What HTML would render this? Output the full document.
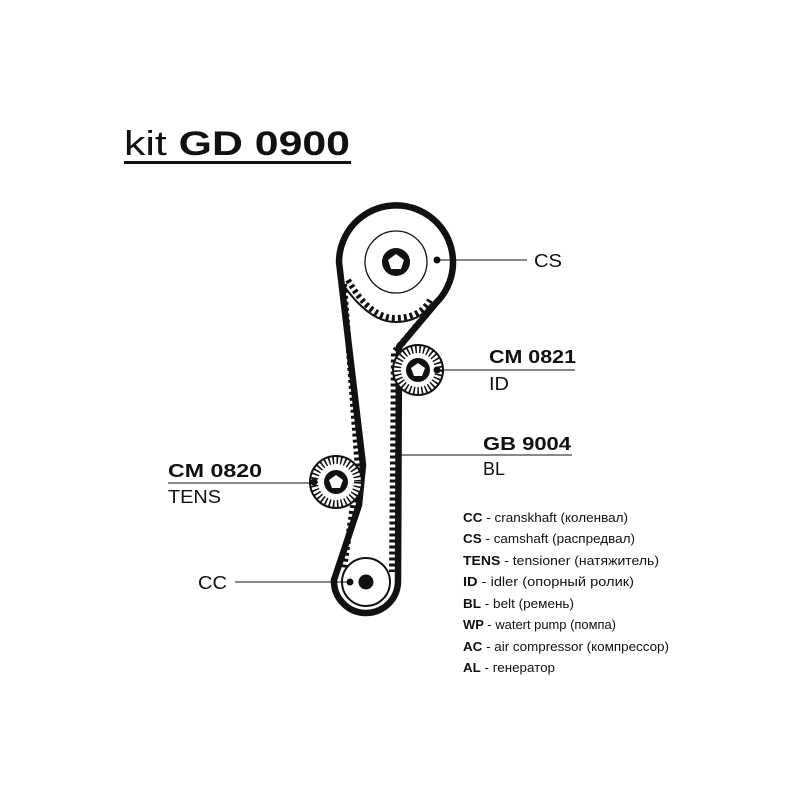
<!DOCTYPE html>
<html><head><meta charset="utf-8"><style>
body{margin:0;background:#fff;}
svg text{font-family:"Liberation Sans","DejaVu Sans",sans-serif;fill:#111;}
</style></head><body>
<svg width="800" height="800" viewBox="0 0 800 800" xmlns="http://www.w3.org/2000/svg">
<rect width="800" height="800" fill="#fff"/>
<text x="124" y="155" font-size="34" textLength="226" lengthAdjust="spacingAndGlyphs">kit <tspan font-weight="bold">GD 0900</tspan></text>
<rect x="124" y="161" width="227" height="3" fill="#111"/>

<path d="M339,262 A57,57 0 1 1 436,303 L399,347 L398,582 A31,31 0 0 1 334,580 L359,505 L363,465 L339,262 Z" fill="none" stroke="#111" stroke-width="6.5" stroke-linejoin="round"/>
<path d="M348,280 Q370,318 395,318 Q420,318 430,300 M428,312 L394,352 L392,572 M344,284 L358,470 L344,568" fill="none" stroke="#111" stroke-width="6" stroke-dasharray="3,3"/>
<path d="M344,286 Q370,322 395,322 Q420,322 431,304" fill="none" stroke="#111" stroke-width="2"/>

<circle cx="396" cy="262" r="31" fill="#fff" stroke="#111" stroke-width="1.3"/>
<circle cx="396" cy="262" r="14" fill="#111"/>
<polygon points="396,254 404,260 401,269 391,269 388,260" fill="#fff"/>
<circle cx="437" cy="260" r="3.5" fill="#111"/>

<circle cx="418" cy="370" r="25" fill="#fff" stroke="#111" stroke-width="2"/>
<circle cx="418" cy="370" r="21" fill="none" stroke="#111" stroke-width="8" stroke-dasharray="1.6,2.4"/>
<circle cx="418" cy="370" r="12" fill="#111"/>
<polygon points="418,363 425,368 422,376 414,376 411,368" fill="#fff"/>
<circle cx="437" cy="370" r="3.5" fill="#111"/>

<circle cx="336" cy="482" r="26" fill="#fff" stroke="#111" stroke-width="2"/>
<circle cx="336" cy="482" r="22" fill="none" stroke="#111" stroke-width="8" stroke-dasharray="1.6,2.4"/>
<circle cx="336" cy="482" r="12" fill="#111"/>
<polygon points="336,475 343,480 340,488 332,488 329,480" fill="#fff"/>
<circle cx="314" cy="482" r="3.5" fill="#111"/>

<circle cx="366" cy="582" r="24" fill="#fff" stroke="#111" stroke-width="2"/>
<circle cx="366" cy="582" r="7.5" fill="#111"/>
<circle cx="350" cy="582" r="3.5" fill="#111"/>
<circle cx="398" cy="455" r="3" fill="#111"/>

<g stroke="#111" stroke-width="1">
<line x1="437" y1="260" x2="527" y2="260"/>
<line x1="437" y1="370" x2="575" y2="370"/>
<line x1="398" y1="455" x2="572" y2="455"/>
<line x1="168" y1="483" x2="314" y2="483"/>
<line x1="235" y1="582" x2="350" y2="582"/>
</g>
<g font-size="18">
<text x="534" y="267" textLength="28" lengthAdjust="spacingAndGlyphs">CS</text>
<text x="489" y="363" font-weight="bold" textLength="87" lengthAdjust="spacingAndGlyphs">CM 0821</text>
<text x="489" y="390" textLength="20" lengthAdjust="spacingAndGlyphs">ID</text>
<text x="483" y="450" font-weight="bold" textLength="88" lengthAdjust="spacingAndGlyphs">GB 9004</text>
<text x="483" y="475" textLength="22" lengthAdjust="spacingAndGlyphs">BL</text>
<text x="168" y="477" font-weight="bold" textLength="94" lengthAdjust="spacingAndGlyphs">CM 0820</text>
<text x="168" y="503" textLength="53" lengthAdjust="spacingAndGlyphs">TENS</text>
<text x="198" y="589" textLength="29" lengthAdjust="spacingAndGlyphs">CC</text>
</g>
<g font-size="13">
<text x="463" y="522" textLength="165" lengthAdjust="spacingAndGlyphs"><tspan font-weight="bold">CC</tspan> - cranskhaft (коленвал)</text>
<text x="463" y="543" textLength="172" lengthAdjust="spacingAndGlyphs"><tspan font-weight="bold">CS</tspan> - camshaft (распредвал)</text>
<text x="463" y="565" textLength="196" lengthAdjust="spacingAndGlyphs"><tspan font-weight="bold">TENS</tspan> - tensioner (натяжитель)</text>
<text x="463" y="586" textLength="171" lengthAdjust="spacingAndGlyphs"><tspan font-weight="bold">ID</tspan> - idler (опорный ролик)</text>
<text x="463" y="608" textLength="111" lengthAdjust="spacingAndGlyphs"><tspan font-weight="bold">BL</tspan> - belt (ремень)</text>
<text x="463" y="629" textLength="153" lengthAdjust="spacingAndGlyphs"><tspan font-weight="bold">WP</tspan> - watert pump (помпа)</text>
<text x="463" y="651" textLength="206" lengthAdjust="spacingAndGlyphs"><tspan font-weight="bold">AC</tspan> - air compressor (компрессор)</text>
<text x="463" y="672" textLength="92" lengthAdjust="spacingAndGlyphs"><tspan font-weight="bold">AL</tspan> - генератор</text>
</g>
</svg>
</body></html>
